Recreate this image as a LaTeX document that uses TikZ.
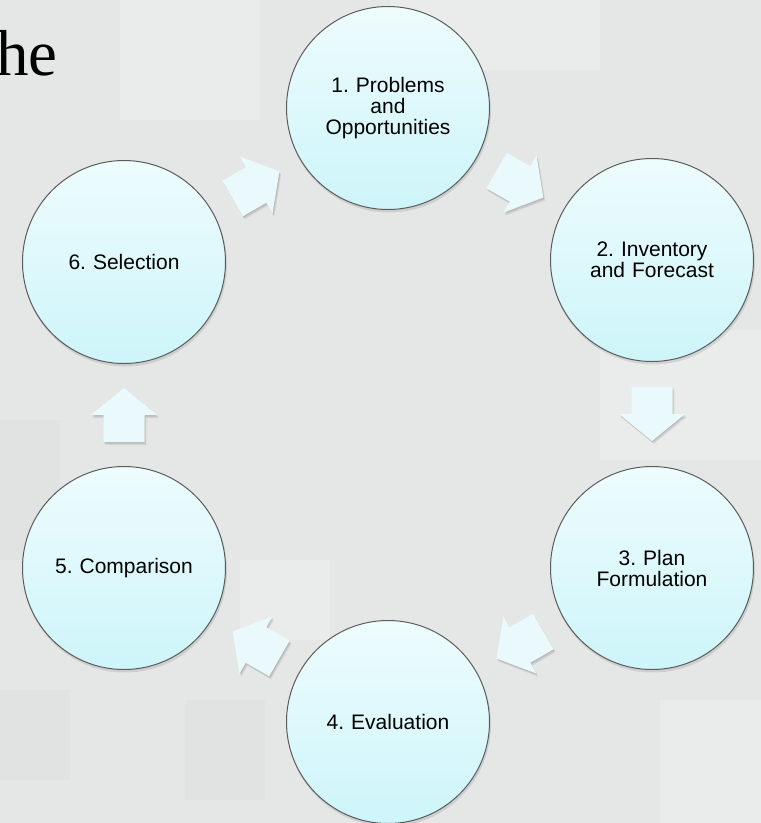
\documentclass[tikz,border=0pt]{standalone}
\usepackage{fontspec}
\setmainfont{Liberation Sans}
\newfontfamily\headingserif{Liberation Serif}
\usetikzlibrary{calc}
\frenchspacing

\definecolor{bgcol}{RGB}{229,230,230}
\definecolor{bglight}{RGB}{234,235,235}
\definecolor{bgdark}{RGB}{225,226,226}
\definecolor{discTop}{RGB}{238,252,253}
\definecolor{discBot}{RGB}{205,245,250}
\definecolor{discRim}{RGB}{92,92,92}
\definecolor{arrowFill}{RGB}{234,250,252}

\tikzset{
  stage/.style={circle, minimum size=203pt, inner sep=0pt, draw=discRim,
    line width=1pt, top color=discTop, bottom color=discBot,
    align=center, text width=150pt,
    font=\fontsize{21}{21}\selectfont},
  arrowbody/.pic={
    \fill[arrowFill] (-27pt,-20.5pt) -- (0pt,-20.5pt) -- (0pt,-33pt) -- (27pt,0pt)
      -- (0pt,33pt) -- (0pt,20.5pt) -- (-27pt,20.5pt) -- cycle;
  },
  arrowshade/.pic={
    \fill[black, opacity=0.07] (-27pt,-20.5pt) -- (0pt,-20.5pt) -- (0pt,-33pt) -- (27pt,0pt)
      -- (0pt,33pt) -- (0pt,20.5pt) -- (-27pt,20.5pt) -- cycle;
  },
}

% block arrow halfway between two stages, pointing along the given angle
\newcommand\stepflow[3]{%
  \foreach \sx/\sy in {0.6/-1.0, 1.2/-2.0, 1.8/-3.0}
    \pic[shift={(\sx pt,\sy pt)}, rotate=#3] at ($(#1)!0.5!(#2)$) {arrowshade};
  \pic[rotate=#3] at ($(#1)!0.5!(#2)$) {arrowbody};
}

\begin{document}
\begin{tikzpicture}[x=1pt, y=-1pt]
  \useasboundingbox (0,0) rectangle (761,823);
  \fill[bgcol] (0,0) rectangle (761,823);

  % faint backdrop blocks
  \fill[bglight] (390,0) rectangle (600,70);
  \fill[bglight] (120,0) rectangle (260,120);
  \fill[bglight] (600,330) rectangle (761,460);
  \fill[bglight] (240,560) rectangle (330,640);
  \fill[bgdark]  (0,420) rectangle (60,560);
  \fill[bgdark]  (185,700) rectangle (265,800);
  \fill[bgdark]  (0,690) rectangle (70,780);
  \fill[bglight] (660,700) rectangle (761,823);

  % heading fragment
  \node[anchor=base west, inner sep=0pt,
        font=\headingserif\fontsize{65}{65}\selectfont] (heading) at (-4,75) {he};

  % soft shadows under the stages
  \foreach \cx/\cy in {388/108, 652/260, 652/568, 388/722, 124/568, 124/262}
    \fill[black, opacity=0.10] (\cx+1,\cy+2.5) circle[radius=102pt];

  \node[stage] (s1) at (388,108) {1. Problems\\and\\Opportunities};
  \node[stage] (s2) at (652,260) {2. Inventory\\and Forecast};
  \node[stage] (s3) at (652,568) {3. Plan\\Formulation};
  \node[stage] (s4) at (388,722) {4. Evaluation};
  \node[stage] (s5) at (124,568) {5. Comparison};
  \node[stage] (s6) at (124,262) {6. Selection};

  \stepflow{s1}{s2}{-30}
  \stepflow{s2}{s3}{-90}
  \stepflow{s3}{s4}{-150}
  \stepflow{s4}{s5}{150}
  \stepflow{s5}{s6}{90}
  \stepflow{s6}{s1}{30}
\end{tikzpicture}
\end{document}
